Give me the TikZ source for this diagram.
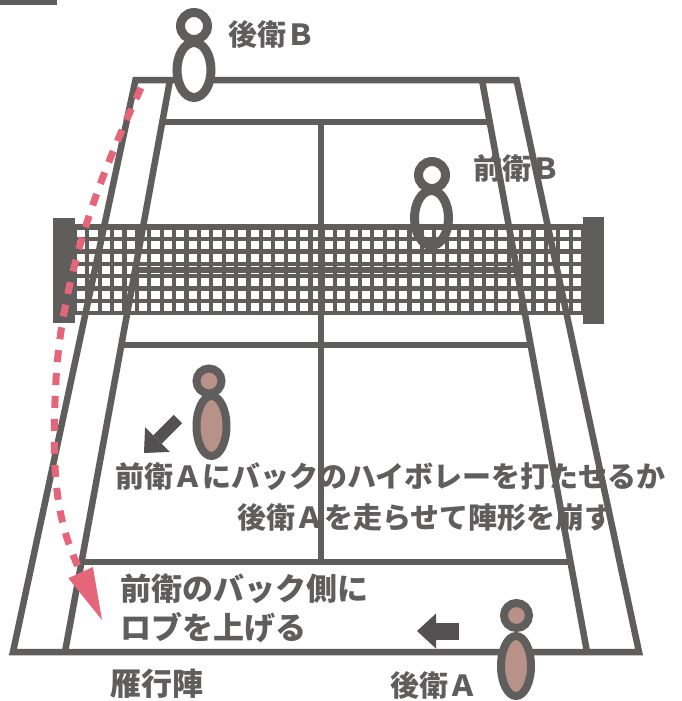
\documentclass[tikz,border=0pt]{standalone}
\usepackage{fontspec}
\usepackage{tikz}
\usetikzlibrary{positioning, arrows.meta, shapes.geometric, calc}
\newfontfamily\jpfont{Noto Sans CJK JP}
\definecolor{courtGray}{RGB}{96,93,93}
\definecolor{arrowGray}{RGB}{82,80,80}
\definecolor{skinTone}{RGB}{184,146,136}
\definecolor{lobRed}{RGB}{229,102,120}
\tikzset{
	courtline/.style={draw=courtGray, line width=6.5pt, line join=miter},
	meshline/.style={draw=courtGray, line width=4.2pt},
	headB/.style={circle, draw=courtGray, line width=9pt, minimum size=27pt, inner sep=0pt},
	bodyB/.style={ellipse, draw=courtGray, line width=9pt, minimum width=34pt, minimum height=55pt, inner sep=0pt},
	headA/.style={circle, draw=courtGray, fill=skinTone, line width=8pt, minimum size=25pt, inner sep=0pt},
	bodyA/.style={ellipse, draw=courtGray, fill=skinTone, line width=8pt, minimum width=30pt, minimum height=60pt, inner sep=0pt},
	jplabel/.style={anchor=base west, inner sep=0pt, text=courtGray, font=\jpfont\bfseries\fontsize{29pt}{29pt}\selectfont},
	biglabel/.style={jplabel, font=\jpfont\bfseries\fontsize{31pt}{31pt}\selectfont},
	movearr/.style={draw=arrowGray, -{Triangle[length=19pt, width=35pt, line width=0pt]}},
	lobarr/.style={draw=lobRed, line width=7pt, dash pattern=on 12pt off 11pt,
		-{Triangle[length=52pt, width=27pt, line width=0pt]}}
}

\begin{document}
\begin{tikzpicture}[x=1pt, y=-1pt]
	\useasboundingbox (0,0) rectangle (682,701);
	\fill[white] (0,0) rectangle (682,701);
	\fill[courtGray] (0,0) rectangle (57,5);

	% captions
	\node[jplabel] (tBb) at (228,46) {後衛Ｂ};
	\node[jplabel] (tBf) at (473,179.5) {前衛Ｂ};
	\node[jplabel] (plan1) at (115,487) {前衛Ａにバックのハイボレーを打たせるか};
	\node[jplabel] (plan2) at (237,528) {後衛Ａを走らせて陣形を崩す};
	\node[biglabel] (lob1) at (120,600) {前衛のバック側に};
	\node[biglabel] (lob2) at (120,639) {ロブを上げる};
	\node[biglabel] (form) at (110,695) {雁行陣};
	\node[jplabel] (tAb) at (390,696) {後衛Ａ};

	% court
	\coordinate (oTL) at (135.5,80);
	\coordinate (oTR) at (516.5,80);
	\coordinate (oBR) at (639,652);
	\coordinate (oBL) at (13,652);
	\coordinate (iTL) at (170,80);
	\coordinate (iTR) at (482,80);
	\coordinate (iBL) at (65,652);
	\coordinate (iBR) at (587,652);
	\draw[courtline] (oTL) -- (oTR) -- (oBR) -- (oBL) -- cycle;
	\draw[courtline] (iTL) -- (iBL) (iTR) -- (iBR);
	\foreach \f in {0.0734, 0.3322, 0.4633, 0.8427}
		\draw[courtline] ($(iTL)!\f!(iBL)$) -- ($(iTR)!\f!(iBR)$);
	\draw[courtline] (321,122) -- (321,562);

	% net
	\fill[courtGray] (53,218) rectangle (75,323);
	\fill[courtGray] (583,217) rectangle (604,324);
	\foreach \i in {0,...,41}
		\draw[meshline] ({75+\i*12.39},227) -- ({75+\i*12.39},313);
	\foreach \j in {1,...,7}
		\draw[meshline] (75,{227+\j*12.286}) -- (583,{227+\j*12.286});
	\draw[meshline, line width=6pt] (75,227) -- (583,227);

	% players
	\node[bodyB, fill=white] (bBb) at (194,70) {};
	\node[headB, fill=white] (hBb) at (194,26) {};
	\node[bodyB] (bBf) at (431.5,218) {};
	\node[headB] (hBf) at (432,175) {};
	\node[bodyA] (bAf) at (211.5,426) {};
	\node[headA] (hAf) at (209,381) {};
	\node[bodyA] (bAb) at (516,666) {};
	\node[headA] (hAb) at (516.5,615.5) {};

	% movement arrows
	\coordinate (runFrom) at (178,419);
	\coordinate (runTo) at (144,453);
	\draw[movearr, line width=12pt] (runFrom) -- (runTo);
	\coordinate (stepFrom) at (459,631);
	\coordinate (stepTo) at (417,631);
	\draw[movearr, line width=17pt] (stepFrom) -- (stepTo);

	% lob
	\coordinate (lobHit) at (141,88);
	\coordinate (lobMid) at (56,380);
	\coordinate (lobLand) at (102,620);
	\draw[lobarr] (lobHit) .. controls (105,165) and (62,270) .. (lobMid)
		.. controls (50,490) and (60,527) .. (lobLand);
\end{tikzpicture}
\end{document}
